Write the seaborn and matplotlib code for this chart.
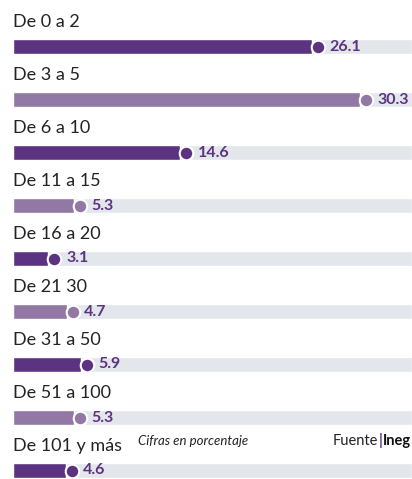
import matplotlib
matplotlib.use("Agg")
import matplotlib.pyplot as plt
import matplotlib.transforms as mtransforms
import seaborn as sns
import pandas as pd

# Data
categories = ["De 0 a 2", "De 3 a 5", "De 6 a 10", "De 11 a 15", "De 16 a 20",
              "De 21 30", "De 31 a 50", "De 51 a 100", "De 101 y más"]
values = [26.1, 30.3, 14.6, 5.3, 3.1, 4.7, 5.9, 5.3, 4.6]
value_labels = ["26.1", "30.3", "14.6", "5.3", "3.1", "4.7", "5.9", "5.3", "4.6"]
note_text = "Cifras en porcentaje"
source_label = "Fuente"
source_name = "Ineg"

DARK = "#5c3380"
LIGHT = "#9278a5"
TRACK = "#e3e7ec"
TEXT = "#222222"
XMAX = 34.85

colors = [DARK if i % 2 == 0 else LIGHT for i in range(len(categories))]
df = pd.DataFrame({"cat": categories, "val": values, "track": [XMAX] * len(categories)})

sns.set_theme(style="white")
plt.rcParams["font.family"] = ["Lato", "DejaVu Sans"]

W, H = 412, 479
fig = plt.figure(figsize=(W / 100, H / 100), dpi=100)
ax = fig.add_axes([13 / W, 0, 399 / W, 1])

bar_h = 15 / 53
sns.barplot(data=df, x="track", y="cat", orient="h", color=TRACK, width=bar_h,
            ax=ax, saturation=1)
sns.barplot(data=df, x="val", y="cat", hue="cat", palette=colors, orient="h",
            width=bar_h, ax=ax, saturation=1, legend=False)

# markers just past the end of each bar, then the value
circ_tr = mtransforms.offset_copy(ax.transData, fig=fig, x=6, y=0, units="dots")
text_tr = mtransforms.offset_copy(ax.transData, fig=fig, x=17.5, y=0, units="dots")
for i, (v, c) in enumerate(zip(values, colors)):
    ax.scatter([v], [i], s=95, color=c, edgecolor="white", linewidth=1.5,
               transform=circ_tr, zorder=5, clip_on=False)
    ax.text(v, i, value_labels[i], transform=text_tr, ha="left", va="center",
            fontsize=11.5, fontweight="bold", color=DARK, zorder=6)

# category labels above bars
for i, cat in enumerate(categories):
    ax.text(0, i - 0.46, cat, ha="left", va="center", fontsize=13, color=TEXT)

# footer notes
y_note = 1 - 441 / H
fig.text(138 / W, y_note, note_text, ha="left", va="center", fontsize=9.5,
         style="italic", color=TEXT)
t3 = fig.text(411 / W, y_note, source_name, ha="right", va="center",
              fontsize=10.5, fontweight="bold", color="#111111")
fig.canvas.draw()
x3 = t3.get_window_extent().x0
t2 = fig.text((x3 - 0.5) / W, y_note, "|", ha="right", va="center", fontsize=10.5,
              fontweight="bold", color=DARK)
x2 = t2.get_window_extent().x0
fig.text((x2 - 0.5) / W, y_note, source_label, ha="right", va="center",
         fontsize=10.5, color=TEXT)

ax.set_xlim(0, XMAX)
ax.set_ylim((H - 46.5) / 53, -46.5 / 53)
ax.set_axis_off()

fig.savefig("out.png", dpi=100)
